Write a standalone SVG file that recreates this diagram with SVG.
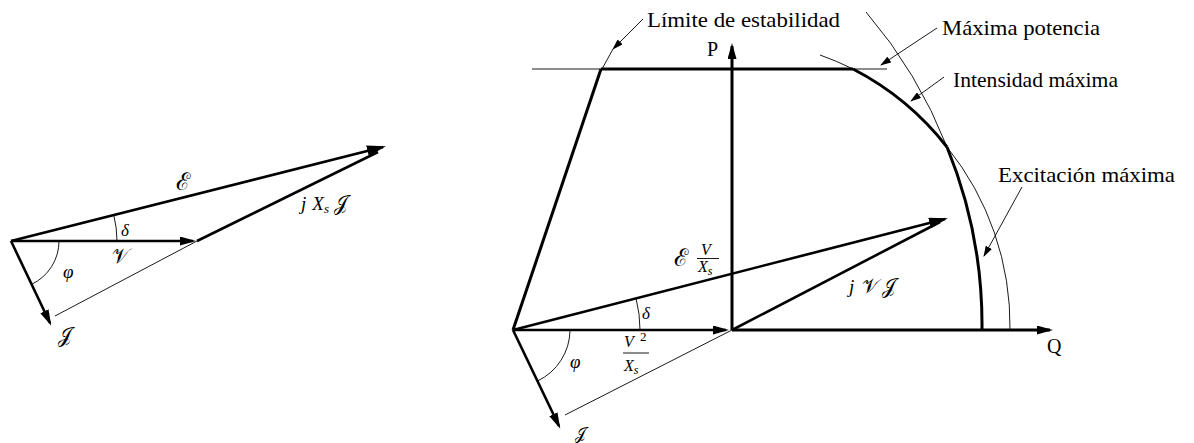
<svg xmlns="http://www.w3.org/2000/svg" width="1194" height="443" viewBox="0 0 1194 443">
<style>
.thick{stroke:#000;stroke-width:2.6;fill:none}
.axis{stroke:#000;stroke-width:3;fill:none}
.thin{stroke:#000;stroke-width:0.9;fill:none}
.lbl{font-family:'Liberation Serif','DejaVu Serif',serif;font-size:22px;fill:#000}
.m{font-family:'Liberation Serif','DejaVu Serif',serif;font-style:italic;fill:#000}
.s{font-family:'DejaVu Serif','Noto Sans','Liberation Serif',serif;fill:#000}
.up{font-family:'Liberation Serif',serif;fill:#000}
</style>
<defs>
<marker id="ah" viewBox="0 0 16 9" refX="13" refY="4.5" markerWidth="16" markerHeight="9" markerUnits="userSpaceOnUse" orient="auto"><path d="M0,0 L16,4.5 L0,9 z" fill="#000"/></marker>
<marker id="ahb" viewBox="0 0 19 11" refX="16" refY="5.5" markerWidth="19" markerHeight="11" markerUnits="userSpaceOnUse" orient="auto"><path d="M0,0 L19,5.5 L0,11 z" fill="#000"/></marker>
<marker id="ahs" viewBox="0 0 11 7" refX="10" refY="3.5" markerWidth="11" markerHeight="7" markerUnits="userSpaceOnUse" orient="auto"><path d="M0,0 L11,3.5 L0,7 z" fill="#000"/></marker>
</defs>

<g id="left-diagram">
  <g id="left-connectors">
    <path class="thick" d="M11,241 L383,147" marker-end="url(#ahb)"/>
    <path class="thick" d="M11,241 L193,241" marker-end="url(#ah)"/>
    <path class="thick" d="M197,241 L378,152"/>
    <path class="thick" d="M11,241 L50,323" marker-end="url(#ah)"/>
    <path class="thin" d="M55,316 L197,241"/>
    <path class="thin" d="M117,241 A106,106 0 0 0 113.8,215.2"/>
    <path class="thin" d="M59,241 A48,48 0 0 1 31.4,284.4"/>
  </g>
  <g id="left-labels">
    <text class="s" x="176" y="190" font-size="24">ℰ</text>
    <text class="m" x="121" y="236" font-size="17">δ</text>
    <text class="s" x="112" y="263" font-size="21">𝒱</text>
    <text class="m" x="63" y="278" font-size="19">φ</text>
    <text class="s" x="58" y="342" font-size="20">𝒥</text>
    <text x="301" y="210" font-size="19"><tspan class="m">j</tspan><tspan class="m" dx="6">X</tspan><tspan class="m" font-size="13" dy="3">s</tspan><tspan class="s" dx="5" dy="-3" font-size="20">𝒥</tspan></text>
  </g>
</g>

<g id="right-diagram">
  <g id="connectors">
    <path class="thin" d="M532,69 L887,69"/>
    <path class="axis" d="M601,69 L853,69"/>
    <path class="axis" d="M513,330 L601,69"/>
    <path class="axis" d="M732,330 L732,46" marker-end="url(#ah)"/>
    <path class="axis" d="M732,330 L1050,330" marker-end="url(#ah)"/>
    <path class="thick" d="M513,330 L726,330" marker-end="url(#ah)"/>
    <path class="thick" d="M513,330 L945,219" marker-end="url(#ahb)"/>
    <path class="thick" d="M732,330 L940,222"/>
    <path class="thick" d="M513,330 L559,426" marker-end="url(#ah)"/>
    <path class="thin" d="M565,415 L732,330"/>
    <path class="thin" d="M570,330 A57,57 0 0 1 537.5,381"/>
    <path class="thin" d="M640,330 A127,127 0 0 0 636.1,298.6"/>
  </g>
  <g id="curves">
    <path class="axis" d="M853,69 A285,285 0 0 1 947,147"/>
    <path class="thin" d="M853,69 A285,285 0 0 0 820,55"/>
    <path class="thin" d="M947,147 A285,285 0 0 1 1010,330"/>
    <path class="thin" d="M947,147 A470,470 0 0 0 866,12"/>
    <path class="axis" d="M947,147 A470,470 0 0 1 982,330"/>
  </g>
  <g id="leaders">
    <path class="thin" d="M643,19 L613,49" marker-end="url(#ahs)"/>
    <path class="thin" d="M613,49 L602,69"/>
    <path class="thin" d="M937,28 L881,65" marker-end="url(#ahs)"/>
    <path class="thin" d="M944,77 L911,101" marker-end="url(#ahs)"/>
    <path class="thin" d="M1022,187 L984,256" marker-end="url(#ahs)"/>
  </g>
  <g id="axis-labels">
    <text class="up" x="707" y="56" font-size="20">P</text>
    <text class="up" x="1047" y="353" font-size="20">Q</text>
  </g>
  <g id="vector-labels">
    <text class="s" x="674" y="266" font-size="24">ℰ</text>
    <text class="m" x="701" y="255" font-size="16">V</text>
    <path class="thin" d="M697,258.5 L719,258.5"/>
    <text class="m" x="698" y="272" font-size="16">X<tspan font-size="12" dy="3">s</tspan></text>
    <text class="m" x="642" y="319" font-size="17">δ</text>
    <text class="m" x="570" y="368" font-size="19">φ</text>
    <text class="m" x="624" y="347" font-size="16">V</text>
    <text class="up" x="640" y="341" font-size="13">2</text>
    <path class="thin" d="M623,353 L649,353"/>
    <text class="m" x="624" y="371" font-size="16">X<tspan font-size="12" dy="3">s</tspan></text>
    <text class="s" x="575" y="439" font-size="16">𝒥</text>
    <text x="849" y="293" font-size="19"><tspan class="m">j</tspan><tspan class="s" dx="8" font-size="20">𝒱</tspan><tspan class="s" dx="3" font-size="20">𝒥</tspan></text>
  </g>
  <g id="callouts">
    <text class="lbl" x="647" y="27" textLength="193" lengthAdjust="spacingAndGlyphs">Límite de estabilidad</text>
    <text class="lbl" x="942" y="35" textLength="158" lengthAdjust="spacingAndGlyphs">Máxima potencia</text>
    <text class="lbl" x="953" y="87" textLength="165" lengthAdjust="spacingAndGlyphs">Intensidad máxima</text>
    <text class="lbl" x="998" y="182" textLength="177" lengthAdjust="spacingAndGlyphs">Excitación máxima</text>
  </g>
</g>
</svg>
